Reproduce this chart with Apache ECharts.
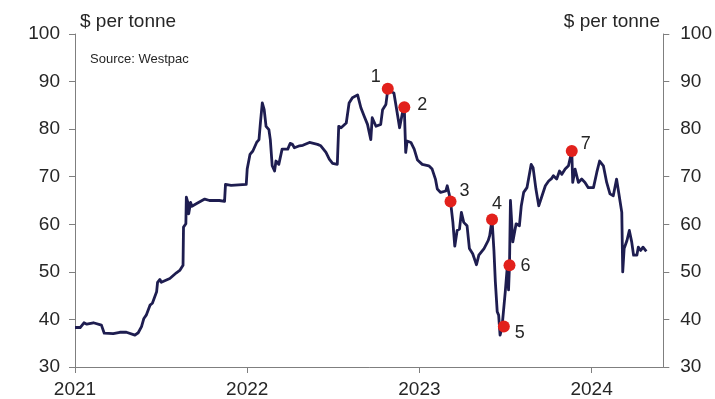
<!DOCTYPE html>
<html>
<head>
<meta charset="utf-8">
<script src="https://cdn.jsdelivr.net/npm/echarts@6/dist/echarts.min.js"></script>
<style>
  html, body { margin: 0; padding: 0; background: #fff; }
  #chart { width: 715px; height: 399px; }
</style>
</head>
<body>
<div id="chart"></div>
<script>
// NZ carbon unit spot price, $ per tonne
const priceDates = [
  '2021-01-01','2021-01-12','2021-01-20','2021-01-26','2021-02-09','2021-02-26','2021-03-02','2021-03-04',
  '2021-03-23','2021-04-06','2021-04-20','2021-05-08','2021-05-15','2021-05-22','2021-05-27','2021-06-01',
  '2021-06-09','2021-06-14','2021-06-23','2021-06-25','2021-06-30','2021-07-03','2021-07-21','2021-08-04',
  '2021-08-11','2021-08-18','2021-08-19','2021-08-24','2021-08-25','2021-08-29','2021-08-30','2021-09-03',
  '2021-09-06','2021-09-15','2021-09-19','2021-10-03','2021-10-13','2021-11-03','2021-11-14','2021-11-16',
  '2021-11-28','2021-12-30','2022-01-01','2022-01-04','2022-01-07','2022-01-13','2022-01-21','2022-01-26',
  '2022-01-29','2022-02-02','2022-02-06','2022-02-10','2022-02-16','2022-02-19','2022-02-23','2022-02-28',
  '2022-03-03','2022-03-09','2022-03-16','2022-03-28','2022-04-02','2022-04-07','2022-04-11','2022-04-22',
  '2022-04-29','2022-05-13','2022-05-30','2022-06-06','2022-06-17','2022-06-24','2022-07-01','2022-07-11',
  '2022-07-14','2022-07-19','2022-07-30','2022-08-05','2022-08-12','2022-08-23','2022-08-30','2022-09-06',
  '2022-09-13','2022-09-20','2022-09-23','2022-09-27','2022-10-01','2022-10-11','2022-10-15','2022-10-22',
  '2022-10-26','2022-11-01','2022-11-08','2022-11-15','2022-11-20','2022-11-26','2022-11-30','2022-12-03',
  '2022-12-06','2022-12-14','2022-12-21','2022-12-28','2023-01-07','2023-01-21','2023-01-28','2023-02-04',
  '2023-02-08','2023-02-15','2023-02-26','2023-03-01','2023-03-05','2023-03-08','2023-03-13','2023-03-17',
  '2023-03-22','2023-03-27','2023-03-31','2023-04-05','2023-04-12','2023-04-17','2023-04-24','2023-05-02',
  '2023-05-07','2023-05-18','2023-05-27','2023-05-30','2023-06-04','2023-06-08','2023-06-11','2023-06-15',
  '2023-06-18','2023-06-21','2023-06-25','2023-06-29','2023-07-02','2023-07-06','2023-07-09','2023-07-11',
  '2023-07-13','2023-07-18','2023-07-25','2023-08-01','2023-08-05','2023-08-10','2023-08-17','2023-08-26',
  '2023-08-30','2023-09-05','2023-09-11','2023-09-18','2023-09-25','2023-10-02','2023-10-08','2023-10-12',
  '2023-10-19','2023-10-25','2023-10-30','2023-11-06','2023-11-13','2023-11-20','2023-11-22','2023-11-27',
  '2023-12-04','2023-12-11','2023-12-18','2023-12-25','2024-01-05','2024-01-12','2024-01-18','2024-01-26',
  '2024-02-02','2024-02-09','2024-02-16','2024-02-23','2024-02-29','2024-03-05','2024-03-07','2024-03-10',
  '2024-03-16','2024-03-21','2024-03-26','2024-03-30','2024-04-06','2024-04-09','2024-04-14','2024-04-19',
  '2024-04-26'
];
const priceValues = [
  38.3,38.3,39.3,39.0,39.3,38.8,38.7,37.1,
  37.0,37.3,37.3,36.7,37.2,38.5,40.2,40.9,
  43.0,43.4,45.8,47.8,48.4,47.8,48.6,49.8,
  50.3,51.4,59.4,60.1,65.7,64.3,62.2,64.6,
  63.8,64.3,64.6,65.3,65.0,65.0,64.8,68.4,
  68.2,68.4,71.6,71.9,74.7,75.4,77.2,77.8,
  81.3,85.5,84.1,80.6,79.9,77.8,72.3,71.2,
  73.3,72.6,75.8,75.8,77.0,76.8,76.1,76.5,
  76.6,77.2,76.8,76.5,75.1,73.7,72.8,72.6,
  80.6,80.3,81.3,85.5,86.6,87.2,84.5,82.7,
  81.0,77.8,82.4,82.4,80.6,81.0,84.1,85.2,
  88.3,87.9,87.6,83.4,80.3,83.4,84.5,75.1,
  77.5,77.2,75.8,73.5,72.6,72.3,71.6,69.5,
  67.4,66.7,67.0,68.1,66.4,64.8,60.4,55.4,
  58.7,59.0,62.5,60.4,59.7,54.9,53.8,51.5,
  53.5,54.9,56.6,57.6,61.0,54.5,47.9,41.6,
  40.9,36.7,38.2,38.5,45.8,50.7,46.2,51.4,
  65.0,56.3,60.1,59.7,63.9,66.7,67.7,72.6,
  71.9,67.4,63.9,66.0,68.1,69.1,69.6,70.2,
  69.5,71.2,70.5,71.6,72.3,75.4,68.8,71.6,
  68.8,69.5,68.8,67.7,67.7,70.9,73.3,72.3,
  68.8,66.4,66.0,69.5,65.7,62.5,50.0,54.9,
  56.6,58.7,56.3,53.5,53.5,55.2,54.5,55.2,
  54.3
];

// Numbered events along the price path
const eventDates  = ['2022-10-26','2022-11-30','2023-03-08','2023-06-04','2023-06-29','2023-07-11','2023-11-20'];
const eventValues = [88.5, 84.6, 64.8, 61.0, 38.5, 51.4, 75.4];
const eventLabels = ['1','2','3','4','5','6','7'];

// Axis ticks
const yearTicks = ['2021','2022','2023','2024'];
const yTicks = [30, 40, 50, 60, 70, 80, 90, 100];

// Label offsets for the numbered events (pixels, relative to the dot)
const eventLabelOffsets = [[-12,-12],[18,-2],[14,-10],[5,-15],[16,6],[16,1],[14,-7]];

const toTime = s => { const p = s.split('-').map(Number); return new Date(p[0], p[1]-1, p[2]).getTime(); };
const yearTimes = yearTicks.map(y => new Date(Number(y), 0, 1).getTime());

const FONT = '"Liberation Sans", Arial, sans-serif';
const TXT = '#262626';
const AXIS = '#7f7f7f';

const chart = echarts.init(document.getElementById('chart'), null, { renderer: 'canvas' });

const yAxisBase = {
  type: 'value',
  min: yTicks[0],
  max: yTicks[yTicks.length - 1],
  interval: 10,
  splitLine: { show: false },
  axisLine: { show: true, lineStyle: { color: AXIS, width: 1 } },
  axisTick: { show: true, length: 6, inside: false, lineStyle: { color: AXIS } },
  axisLabel: { color: TXT, fontSize: 19, fontFamily: FONT }
};

const titleText = { fontSize: 19, fontWeight: 'normal', color: TXT, fontFamily: FONT };

chart.setOption({
  animation: false,
  backgroundColor: '#ffffff',
  grid: { left: 75, right: 50, top: 34, bottom: 30, containLabel: false },
  title: [
    { text: '$ per tonne', left: 75, top: 7, textStyle: titleText },
    { text: '$ per tonne', right: 50, top: 7, textStyle: titleText },
    { text: 'Source: Westpac', left: 85, top: 48, textStyle: { fontSize: 13, fontWeight: 'normal', color: TXT, fontFamily: FONT } }
  ],
  xAxis: {
    type: 'value',
    scale: true,
    min: toTime('2021-01-01'),
    max: toTime('2024-06-01'),
    splitLine: { show: false },
    axisLine: { show: true, onZero: false, lineStyle: { color: AXIS, width: 1 } },
    axisTick: { show: true, length: 6, customValues: yearTimes, lineStyle: { color: AXIS } },
    axisLabel: {
      customValues: yearTimes,
      margin: 13,
      color: TXT, fontSize: 19, fontFamily: FONT,
      formatter: v => String(new Date(v).getFullYear())
    }
  },
  yAxis: [
    Object.assign({}, yAxisBase, { position: 'left', axisLabel: Object.assign({}, yAxisBase.axisLabel, { margin: 15 }) }),
    Object.assign({}, yAxisBase, { position: 'right', axisLabel: Object.assign({}, yAxisBase.axisLabel, { margin: 17 }) })
  ],
  series: [
    {
      type: 'line',
      yAxisIndex: 0,
      data: priceDates.map((d, i) => [toTime(d), priceValues[i]]),
      showSymbol: false,
      symbol: 'none',
      lineStyle: { color: '#1e1d50', width: 2.8, join: 'round' },
      z: 2
    },
    {
      type: 'scatter',
      yAxisIndex: 0,
      symbol: 'circle',
      symbolSize: 12,
      itemStyle: { color: '#e2211c', opacity: 1 },
      z: 3,
      data: eventDates.map((d, i) => ({
        value: [toTime(d), eventValues[i]],
        label: {
          show: true,
          formatter: eventLabels[i],
          position: 'inside',
          offset: eventLabelOffsets[i],
          color: TXT, fontSize: 18, fontFamily: FONT
        }
      }))
    }
  ]
});
</script>
</body>
</html>
